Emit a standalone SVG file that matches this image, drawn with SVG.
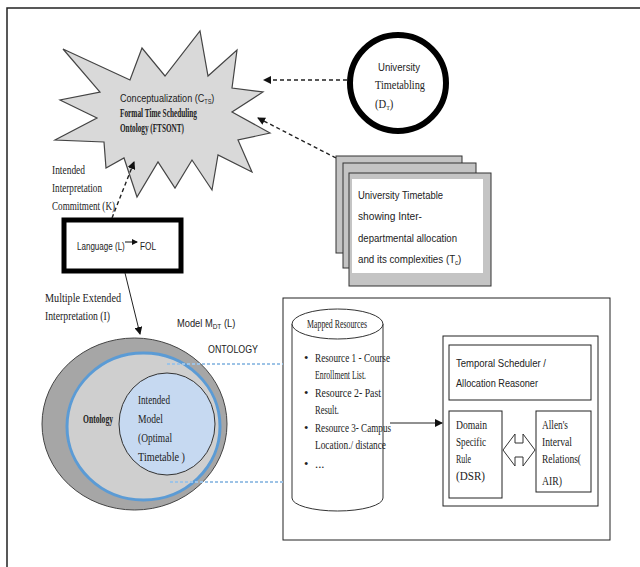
<svg xmlns="http://www.w3.org/2000/svg" width="640" height="567" viewBox="0 0 640 567">
<style>
.sans{font-family:"Liberation Sans",Arial,sans-serif;fill:#222;font-size:11.5px}
.serif{font-family:"Liberation Serif","Times New Roman",serif;fill:#222;font-size:12.5px}
.dash{fill:none;stroke:#222;stroke-width:1.4;stroke-dasharray:4,3}
.solid{fill:none;stroke:#222;stroke-width:1}
.box{fill:#fff;stroke:#222;stroke-width:1}
</style>
<defs>
<marker id="ah" markerWidth="8" markerHeight="8" refX="7" refY="4" orient="auto" markerUnits="userSpaceOnUse">
<path d="M0,0 L8,4 L0,8 z" fill="#111"/>
</marker>
<marker id="ahs" markerWidth="6" markerHeight="6" refX="5" refY="3" orient="auto" markerUnits="userSpaceOnUse">
<path d="M0,0 L6,3 L0,6 z" fill="#111"/>
</marker>
</defs>
<rect x="0" y="0" width="640" height="567" fill="#fff"/>
<rect x="7" y="8" width="660" height="600" fill="none" stroke="#222" stroke-width="1.5"/>

<g id="conceptualization">
<polygon points="63,49 130,80 142,48 165,76 200,31 208,76 237,50 232,88 263,92 232,112 270,133 238,140 252,172 218,155 212,190 192,160 175,188 158,162 137,197 124,158 106,168 104,142 55,140 97,118 60,100 100,92" fill="#d9d9d9" stroke="#444" stroke-width="1.2"/>
<text class="sans" transform="translate(120,102) scale(0.79,1)" font-size="12">Conceptualization (C<tspan font-size="7" dy="2">TS</tspan><tspan dy="-2">)</tspan></text>
<text class="serif" x="120" y="117" font-size="9" font-weight="bold" fill="#333" textLength="77" lengthAdjust="spacingAndGlyphs">Formal Time Scheduling</text>
<text class="serif" x="120" y="132" font-size="9" font-weight="bold" fill="#333" textLength="64" lengthAdjust="spacingAndGlyphs">Ontology (FTSONT)</text>
</g>

<g id="commitment-label">
<text class="serif" x="52" y="174" textLength="33" lengthAdjust="spacingAndGlyphs">Intended</text>
<text class="serif" x="52" y="192" textLength="50" lengthAdjust="spacingAndGlyphs">Interpretation</text>
<text class="serif" x="52" y="210" textLength="63" lengthAdjust="spacingAndGlyphs">Commitment (K)</text>
</g>

<g id="university-timetabling">
<circle cx="398" cy="83" r="48" fill="#fff" stroke="#000" stroke-width="6"/>
<text class="sans" x="378" y="71" textLength="42" lengthAdjust="spacingAndGlyphs">University</text>
<text class="serif" x="375" y="89" textLength="50" lengthAdjust="spacingAndGlyphs">Timetabling</text>
<text class="serif" transform="translate(375,108) scale(0.85,1)">(D<tspan font-size="7" dy="2">T</tspan><tspan dy="-2">)</tspan></text>
</g>

<g id="university-timetable">
<rect x="336" y="156" width="126" height="97" fill="#c4c4c4" stroke="#333" stroke-width="1"/>
<rect x="343" y="163" width="133" height="105" fill="#c4c4c4" stroke="#333" stroke-width="1"/>
<rect x="349" y="173" width="142" height="113" fill="#c4c4c4" stroke="#333" stroke-width="1"/>
<rect x="352" y="179" width="131" height="94" fill="#fff"/>
<text class="sans" x="358" y="199" textLength="85" lengthAdjust="spacingAndGlyphs">University Timetable</text>
<text class="sans" x="358" y="220" textLength="64" lengthAdjust="spacingAndGlyphs">showing  Inter-</text>
<text class="sans" x="358" y="242" textLength="99" lengthAdjust="spacingAndGlyphs">departmental allocation</text>
<text class="sans" transform="translate(358,263) scale(0.85,1)">and its complexities (T<tspan font-size="7" dy="2">c</tspan><tspan dy="-2">)</tspan></text>
</g>

<g id="language">
<rect x="64" y="220" width="117" height="51" fill="#fff" stroke="#000" stroke-width="5"/>
<text class="sans" transform="translate(77,250) scale(0.7,1)" font-size="12.5">Language (L)</text>
<line x1="125" y1="242" x2="137" y2="242" stroke="#111" stroke-width="1" marker-end="url(#ahs)"/>
<text class="sans" transform="translate(140,250) scale(0.72,1)" font-size="12.5">FOL</text>
</g>

<g id="interpretation-label">
<text class="serif" x="45" y="302" textLength="76" lengthAdjust="spacingAndGlyphs">Multiple Extended</text>
<text class="serif" x="45" y="320" textLength="65" lengthAdjust="spacingAndGlyphs">Interpretation (I)</text>
</g>

<g id="model-label">
<text class="sans" transform="translate(177,327) scale(0.81,1)" font-size="12">Model M<tspan font-size="8" dy="2">DT</tspan><tspan dy="-2">  (L)</tspan></text>
<text class="sans" x="208" y="353" textLength="50" lengthAdjust="spacingAndGlyphs">ONTOLOGY</text>
</g>

<g id="ontology">
<ellipse cx="134.5" cy="424" rx="92.5" ry="86" fill="#a6a6a6" stroke="#444" stroke-width="1"/>
<ellipse cx="143.5" cy="426.5" rx="76.5" ry="73.5" fill="#cfcfcf" stroke="#5b9bd5" stroke-width="3"/>
<text class="serif" x="83" y="423" font-size="9" font-weight="bold" fill="#333" textLength="30" lengthAdjust="spacingAndGlyphs">Ontology</text>
</g>

<g id="intended-model">
<ellipse cx="167" cy="424" rx="48" ry="51" fill="#c6d9f1" stroke="#333" stroke-width="1"/>
<text class="serif" x="138" y="404" textLength="32" lengthAdjust="spacingAndGlyphs">Intended</text>
<text class="serif" x="138" y="423" textLength="25" lengthAdjust="spacingAndGlyphs">Model</text>
<text class="serif" x="138" y="442" textLength="34" lengthAdjust="spacingAndGlyphs">(Optimal</text>
<text class="serif" x="138" y="461" textLength="47" lengthAdjust="spacingAndGlyphs">Timetable )</text>
</g>

<g id="mapped-resources-panel">
<rect x="283" y="298" width="327" height="242" class="box"/>
</g>

<g id="mapped-resources">
<path d="M292,324 L292,498 A45.5,13 0 0 0 383,498 L383,324" fill="#fff" stroke="#333" stroke-width="1"/>
<ellipse cx="337.5" cy="324" rx="45.5" ry="15" fill="#fff" stroke="#333" stroke-width="1"/>
<text class="serif" x="307" y="328" font-size="8.5" textLength="60" lengthAdjust="spacingAndGlyphs">Mapped Resources</text>
<g class="serif">
<text x="304" y="362">•</text><text x="315" y="362" textLength="75" lengthAdjust="spacingAndGlyphs">Resource 1 - Course</text>
<text x="315" y="379" textLength="51" lengthAdjust="spacingAndGlyphs">Enrollment List.</text>
<text x="304" y="397">•</text><text x="315" y="397" textLength="66" lengthAdjust="spacingAndGlyphs">Resource 2-  Past</text>
<text x="315" y="414" textLength="24" lengthAdjust="spacingAndGlyphs">Result.</text>
<text x="304" y="432">•</text><text x="315" y="432" textLength="76" lengthAdjust="spacingAndGlyphs">Resource 3- Campus</text>
<text x="315" y="449" textLength="71" lengthAdjust="spacingAndGlyphs">Location./ distance</text>
<text x="304" y="468">•</text><text x="315" y="468">...</text>
</g>
</g>

<g id="reasoner-panel">
<rect x="443" y="336" width="155" height="170" class="box"/>
</g>

<g id="temporal-scheduler">
<rect x="449" y="345" width="142" height="55" class="box"/>
<text class="sans" x="456" y="367" textLength="90" lengthAdjust="spacingAndGlyphs">Temporal Scheduler /</text>
<text class="sans" x="456" y="387" textLength="82" lengthAdjust="spacingAndGlyphs">Allocation Reasoner</text>
</g>

<g id="dsr">
<rect x="449" y="411" width="53" height="87" class="box"/>
<text class="serif" x="456" y="429" textLength="31" lengthAdjust="spacingAndGlyphs">Domain</text>
<text class="serif" x="456" y="446" textLength="30" lengthAdjust="spacingAndGlyphs">Specific</text>
<text class="serif" x="456" y="463" textLength="15" lengthAdjust="spacingAndGlyphs">Rule</text>
<text class="serif" x="456" y="480" textLength="29" lengthAdjust="spacingAndGlyphs">(DSR)</text>
</g>

<g id="air">
<rect x="536" y="411" width="55" height="81" class="box"/>
<text class="serif" x="542" y="429" textLength="26" lengthAdjust="spacingAndGlyphs">Allen's</text>
<text class="serif" x="542" y="446" textLength="30" lengthAdjust="spacingAndGlyphs">Interval</text>
<text class="serif" x="542" y="463" textLength="39" lengthAdjust="spacingAndGlyphs">Relations(</text>
<text class="serif" x="542" y="485" textLength="20" lengthAdjust="spacingAndGlyphs">AIR)</text>
</g>

<g id="connectors">
<line x1="347" y1="80" x2="264" y2="80" class="dash" marker-end="url(#ah)"/>
<line x1="336" y1="158" x2="258" y2="118" class="dash" marker-end="url(#ah)"/>
<line x1="112" y1="218" x2="134" y2="162" class="dash" marker-end="url(#ah)"/>
<line x1="125" y1="273" x2="140" y2="334" class="solid" marker-end="url(#ah)"/>
<line x1="167" y1="364" x2="283" y2="364" stroke="#9dc3e6" stroke-width="2" stroke-dasharray="3,2"/>
<line x1="170" y1="482" x2="283" y2="482" stroke="#9dc3e6" stroke-width="2" stroke-dasharray="3,2"/>
<line x1="390" y1="423" x2="442" y2="423" class="solid" marker-end="url(#ah)"/>
<path d="M503,450 L515,434 L515,443 L523,443 L523,434 L535,450 L523,466 L523,457 L515,457 L515,466 Z" fill="#fff" stroke="#333" stroke-width="1"/>
</g>
</svg>
